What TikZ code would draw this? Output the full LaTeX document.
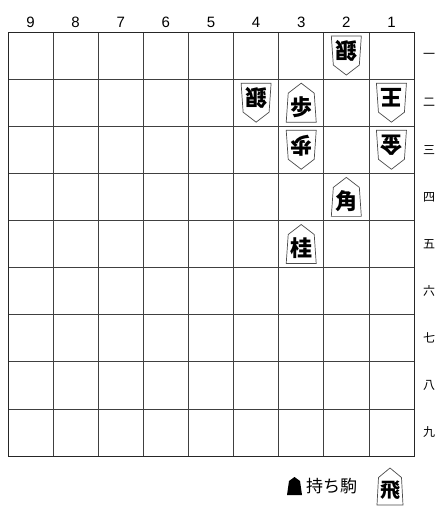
\documentclass[tikz,border=0pt]{standalone}
\usepackage{fontspec}
\setmainfont{Liberation Sans}
\newfontfamily\jp{Noto Sans CJK JP}
\tikzset{
  boardline/.style={draw=black!75, line width=0.6pt},
  boardframe/.style={draw=black!85, line width=0.9pt},
  piece/.style={draw=black!70, line width=0.7pt, fill=white},
  piecetext/.style={font=\jp\fontsize{22}{22}\selectfont\bfseries, inner sep=0pt},
  colnum/.style={font=\fontsize{15}{15}\selectfont, inner sep=0pt},
  rownum/.style={font=\jp\fontsize{12}{12}\selectfont, inner sep=0pt},
  handtext/.style={font=\jp\fontsize{17}{17}\selectfont, inner sep=0pt, anchor=west}
}
\newcommand\spiece[4]{%
  \begin{scope}[shift={({8+(9.5-#2)*45.11},{32+(#3-0.5)*47.11})}]
    \draw[piece] (0,-19.5) -- (13,-9.5) -- (15,19.5) -- (-15,19.5) -- (-13,-9.5) -- cycle;
    \node[piecetext] (#1) at (0,4.5) {#4};
  \end{scope}}
\newcommand\gpiece[4]{%
  \begin{scope}[shift={({8+(9.5-#2)*45.11},{32+(#3-0.5)*47.11})}]
    \draw[piece] (0,19.5) -- (13,9.5) -- (15,-19.5) -- (-15,-19.5) -- (-13,9.5) -- cycle;
    \node[piecetext, rotate=180] (#1) at (0,-4.5) {#4};
  \end{scope}}
\begin{document}
\begin{tikzpicture}[x=1pt,y=-1pt]
\useasboundingbox (0,0) rectangle (436,507);
% grid
\foreach \i in {1,...,8} {
  \draw[boardline] ({8+\i*45.11},32) -- ({8+\i*45.11},456);
  \draw[boardline] (8,{32+\i*47.11}) -- (414,{32+\i*47.11});
}
\draw[boardframe] (8,32) rectangle (414,456);
% column numbers
\foreach \c in {1,...,9} {
  \node[colnum] (col\c) at ({8+(9.5-\c)*45.11},22) {\c};
}
% row numbers
\foreach \r/\k in {1/一,2/二,3/三,4/四,5/五,6/六,7/七,8/八,9/九} {
  \node[rownum] (row\r) at (429,{32+(\r-0.5)*47.11}) {\k};
}
% pieces
\gpiece{p21}{2}{1}{銀}
\gpiece{p42}{4}{2}{銀}
\spiece{p32}{3}{2}{歩}
\gpiece{p12}{1}{2}{王}
\gpiece{p33}{3}{3}{歩}
\gpiece{p13}{1}{3}{金}
\spiece{p24}{2}{4}{角}
\spiece{p35}{3}{5}{桂}
% hand
\fill[black] (294.5,477) -- (300,481) -- (302,495) -- (287,495) -- (289,481) -- cycle;
\node[handtext] (hand) at (306,486) {持ち駒};
\begin{scope}[shift={(390,486.5)}]
  \draw[piece] (0,-18.5) -- (11.5,-9) -- (13,18.5) -- (-13,18.5) -- (-11.5,-9) -- cycle;
  \node[piecetext, font=\jp\fontsize{20}{20}\selectfont\bfseries] (h1) at (0,4) {飛};
\end{scope}
\end{tikzpicture}
\end{document}
